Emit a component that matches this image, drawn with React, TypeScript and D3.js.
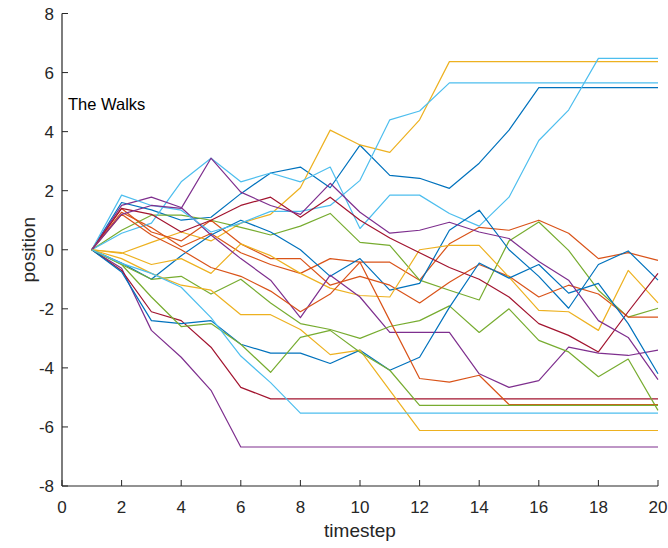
import React from 'react';
import * as d3 from 'd3';

// timesteps 1..20
const timesteps = d3.range(1, 21);

// walk positions (one array per walk, plotted in MATLAB colour order)
const walk01 = [0, 1.6, 1.35, 1.0, 1.1, 1.9, 2.6, 2.8, 2.1, 3.54, 2.52, 2.42, 2.08, 2.93, 4.05, 5.49, 5.49, 5.49, 5.49, 5.49];
const walk02 = [0, 1.27, 0.75, 0.1, 0.55, -0.1, -0.5, -0.8, -0.3, -0.42, -0.42, -1.03, 0.2, 0.76, 0.66, 1.0, 0.56, -0.3, -0.1, -0.36];
const walk03 = [0, -0.12, 0.25, 0.6, 0.3, 0.9, 1.2, 2.1, 4.05, 3.55, 3.3, 4.4, 6.37, 6.37, 6.37, 6.37, 6.37, 6.37, 6.37, 6.37];
const walk04 = [0, -0.63, -2.73, -3.64, -4.76, -6.68, -6.68, -6.68, -6.68, -6.68, -6.68, -6.68, -6.68, -6.68, -6.68, -6.68, -6.68, -6.68, -6.68, -6.68];
const walk05 = [0, 0.66, 1.17, 1.17, 1.0, 0.76, 0.5, 0.8, 1.23, 0.25, 0.15, -1.03, -1.37, -1.7, 0.3, 0.94, -0.02, -1.37, -2.28, -1.98];
const walk06 = [0, 0.56, 0.9, 2.3, 3.1, 2.3, 2.6, 2.3, 2.8, 0.72, 1.85, 1.85, 1.23, 0.8, 1.78, 3.7, 4.73, 6.48, 6.48, 6.48];
const walk07 = [0, -0.7, -2.1, -2.4, -3.3, -4.66, -5.05, -5.05, -5.05, -5.05, -5.05, -5.05, -5.05, -5.05, -5.05, -5.05, -5.05, -5.05, -5.05, -5.05];
const walk08 = [0, -0.45, -1.0, -0.2, 0.5, 1.0, 0.6, 0.0, -0.9, -0.3, -1.37, -1.14, 0.66, 1.34, 0.0, -0.9, -1.98, -0.5, -0.04, -1.03];
const walk09 = [0, 1.4, 0.6, 0.3, 1.0, 0.2, -0.3, -0.3, -1.2, -0.9, -1.2, -1.8, -1.1, -0.5, -0.9, -1.6, -1.2, -1.5, -2.28, -2.28];
const walk10 = [0, -0.1, -0.5, -0.3, -0.8, 0.2, -0.2, -0.8, -1.3, -1.55, -1.6, 0.0, 0.15, 0.15, -0.93, -2.05, -2.1, -2.73, -0.7, -1.8];
const walk11 = [0, 1.5, 1.78, 1.43, 0.5, -0.3, -1.03, -2.3, -0.86, -1.6, -2.8, -2.8, -2.8, -4.2, -4.66, -4.43, -3.3, -3.5, -3.58, -3.4];
const walk12 = [0, -0.5, -1.0, -0.9, -1.5, -1.0, -1.8, -2.5, -2.7, -3.0, -2.6, -2.4, -1.9, -2.8, -2.0, -3.07, -3.46, -4.3, -3.7, -5.44];
const walk13 = [0, 1.85, 1.5, 1.34, 0.6, 0.9, 1.3, 1.3, 1.5, 2.35, 4.4, 4.7, 5.65, 5.65, 5.65, 5.65, 5.65, 5.65, 5.65, 5.65];
const walk14 = [0, 1.4, 1.2, 0.6, 1.0, 1.5, 1.78, 1.1, 1.78, 1.0, 0.4, -0.1, -0.6, -1.0, -1.6, -2.5, -2.9, -3.46, -2.1, -0.8];
const walk15 = [0, -0.75, -2.4, -2.5, -2.4, -3.2, -3.5, -3.5, -3.85, -3.4, -4.08, -3.64, -1.95, -0.45, -0.96, -0.5, -1.47, -1.14, -2.5, -4.2];
const walk16 = [0, 1.2, 0.5, 0.0, -0.6, -0.9, -1.4, -2.1, -1.5, -0.42, -2.4, -4.36, -4.48, -4.25, -5.24, -5.24, -5.24, -5.24, -5.24, -5.24];
const walk17 = [0, -0.3, -0.8, -1.2, -1.37, -2.2, -2.2, -2.7, -3.55, -3.4, -4.76, -6.12, -6.12, -6.12, -6.12, -6.12, -6.12, -6.12, -6.12, -6.12];
const walk18 = [0, 1.2, 1.5, 1.4, 3.1, 1.95, 1.5, 1.2, 2.25, 1.27, 0.56, 0.66, 0.93, 0.6, 0.38, -0.4, -1.03, -2.4, -2.97, -4.4];
const walk19 = [0, -0.5, -1.6, -2.6, -2.5, -3.2, -4.15, -2.97, -2.73, -3.47, -4.08, -5.27, -5.27, -5.27, -5.27, -5.27, -5.27, -5.27, -5.27, -5.27];
const walk20 = [0, -0.46, -0.8, -1.27, -2.3, -3.6, -4.5, -5.53, -5.53, -5.53, -5.53, -5.53, -5.53, -5.53, -5.53, -5.53, -5.53, -5.53, -5.53, -5.53];

const walks = [walk01, walk02, walk03, walk04, walk05, walk06, walk07, walk08, walk09, walk10,
  walk11, walk12, walk13, walk14, walk15, walk16, walk17, walk18, walk19, walk20];

const xTicks = [0, 2, 4, 6, 8, 10, 12, 14, 16, 18, 20];
const yTicks = [-8, -6, -4, -2, 0, 2, 4, 6, 8];

const colors = ['#0072BD', '#D95319', '#EDB120', '#7E2F8E', '#77AC30', '#4DBEEE', '#A2142F'];

export default function App() {
  const width = 668;
  const height = 548;
  const x = d3.scaleLinear().domain([0, 20]).range([62, 658]);
  const y = d3.scaleLinear().domain([-8, 8]).range([486, 13.5]);
  const axisColor = '#262626';
  const font = 'Arial, "Liberation Sans", Helvetica, sans-serif';

  const line = d3.line<number>()
    .x((_, i) => x(timesteps[i]))
    .y(d => y(d));

  return (
    <svg width={width} height={height} style={{ position: 'absolute', left: 0, top: 0, background: '#fff' }}
      fontFamily={font}>
      <g>
        {walks.map((w, i) => (
          <path key={i} d={line(w) ?? ''} fill="none" stroke={colors[i % colors.length]}
            strokeWidth={1.2} strokeLinejoin="round" />
        ))}
      </g>

      {/* axes, MATLAB style: left + bottom, ticks pointing inward */}
      <line x1={x(0)} x2={x(20)} y1={y(-8)} y2={y(-8)} stroke={axisColor} strokeWidth={1.2} />
      <line x1={x(0)} x2={x(0)} y1={y(-8)} y2={y(8)} stroke={axisColor} strokeWidth={1.2} />
      {xTicks.map(t => (
        <g key={'x' + t}>
          <line x1={x(t)} x2={x(t)} y1={y(-8)} y2={y(-8) - 6} stroke={axisColor} strokeWidth={1} />
          <text x={x(t)} y={513} textAnchor="middle" fontSize={17} fill={axisColor}>{t}</text>
        </g>
      ))}
      {yTicks.map(t => (
        <g key={'y' + t}>
          <line x1={x(0)} x2={x(0) + 6} y1={y(t)} y2={y(t)} stroke={axisColor} strokeWidth={1} />
          <text x={54} y={y(t) + 6} textAnchor="end" fontSize={17} fill={axisColor}>{t}</text>
        </g>
      ))}

      <text x={(x(0) + x(20)) / 2} y={537} textAnchor="middle" fontSize={19} fill={axisColor}>timestep</text>
      <text transform={`translate(35,${y(0)}) rotate(-90)`} textAnchor="middle" fontSize={19} fill={axisColor}>position</text>

      <text x={68} y={110} fontSize={16.5} fill="#000">The Walks</text>
    </svg>
  );
}
